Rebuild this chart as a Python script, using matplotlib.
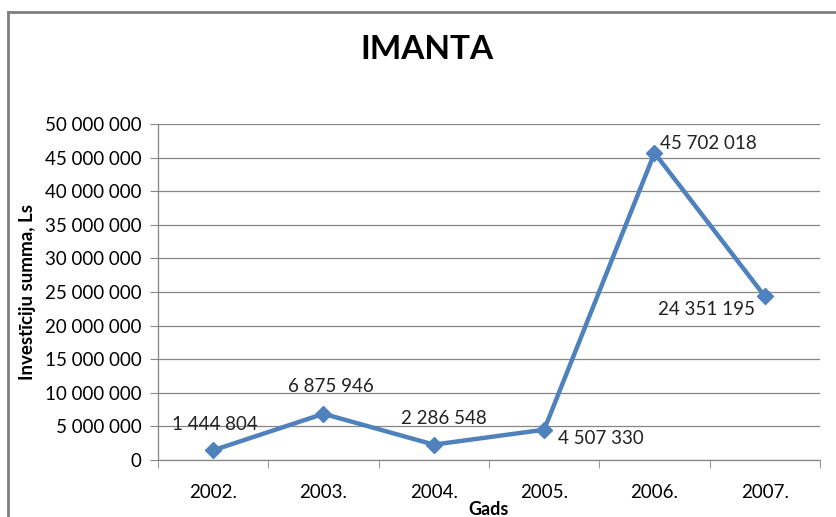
import matplotlib.pyplot as plt
from matplotlib.lines import Line2D
from matplotlib.ticker import FuncFormatter

plt.rcParams['font.family'] = ['Lato', 'DejaVu Sans']

years = ["2002.", "2003.", "2004.", "2005.", "2006.", "2007."]
values = [1444804, 6875946, 2286548, 4507330, 45702018, 24351195]
# label offsets in pixels (dx, dy) from the point
label_offsets = [(2, 26), (7, 27), (10, 26), (57, -9), (54, 9), (-58, -13)]

W, H = 837, 517
fig = plt.figure(figsize=(W / 100, H / 100), dpi=100)
ax = fig.add_axes([158 / W, (H - 460) / H, (820 - 158) / W, (460 - 124) / H])

x = list(range(len(years)))
ax.plot(x, values, color="#4F81BD", lw=3.2, marker="D", ms=8.5, zorder=3)

fmt = lambda v: f"{int(v):,}".replace(",", " ")
for xi, v, (dx, dy) in zip(x, values, label_offsets):
    ax.annotate(fmt(v), (xi, v), xytext=(dx, dy), textcoords="offset pixels",
                ha="center", va="center", fontsize=13.5, color="#222222")

ax.set_xlim(-0.5, len(years) - 0.5)
ax.set_ylim(0, 50000000)
ax.set_yticks(range(0, 50000001, 5000000))
ax.yaxis.set_major_formatter(FuncFormatter(lambda v, p: fmt(v)))
ax.set_xticks(x)
ax.set_xticklabels(years)
ax.set_xticks([i - 0.5 for i in range(len(years) + 1)], minor=True)
ax.tick_params(axis="x", which="major", length=0, labelsize=13.5, pad=17)
ax.tick_params(axis="x", which="minor", length=6, color="#868686", direction="out")
ax.tick_params(axis="y", length=6, color="#868686", labelsize=13.5, pad=6)

ax.grid(axis="y", color="#868686", lw=0.9)
ax.set_axisbelow(True)
for s in ["top", "right"]:
    ax.spines[s].set_visible(False)
for s in ["left", "bottom"]:
    ax.spines[s].set_color("#868686")
    ax.spines[s].set_linewidth(0.9)

ax.set_ylabel("Investīciju summa, Ls", fontsize=13.5, fontweight="bold", labelpad=6)
ax.set_xlabel("Gads", fontsize=13, fontweight="bold", labelpad=0)

fig.text(427 / W, 1 - 50 / H, "IMANTA", ha="center", va="center",
         fontsize=24, fontweight="bold")

# chart area border (cut off on the right and bottom)
fig.add_artist(Line2D([8 / W, 8 / W], [0, 1 - 12 / H], color="#808080", lw=2))
fig.add_artist(Line2D([8 / W, 1], [1 - 12 / H, 1 - 12 / H], color="#808080", lw=2))

fig.savefig("out.png", dpi=100)
